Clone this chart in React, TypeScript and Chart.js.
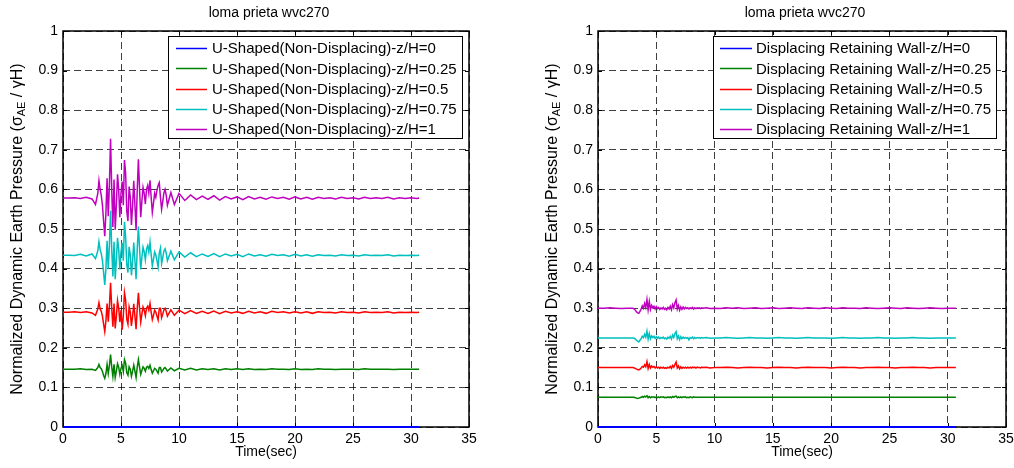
import React, { useEffect, useRef } from 'react';
import { Chart, registerables } from 'chart.js';

Chart.register(...registerables);

const FONT = '"Liberation Sans", Arial, Helvetica, sans-serif';
Chart.defaults.font.family = FONT;
Chart.defaults.font.size = 14;
Chart.defaults.color = '#000';

const TITLE = 'loma prieta wvc270';
const X_TITLE = 'Time(sec)';
const Y_TITLE_MAIN = 'Normalized Dynamic Earth Pressure (σ';
const Y_TITLE_SUB = 'AE';
const Y_TITLE_END = ' / γH)';

const X_TICKS = ['0', '5', '10', '15', '20', '25', '30', '35'];
const Y_TICKS = ['0', '0.1', '0.2', '0.3', '0.4', '0.5', '0.6', '0.7', '0.8', '0.9', '1'];

const LEFT_LABELS = [
  'U-Shaped(Non-Displacing)-z/H=0',
  'U-Shaped(Non-Displacing)-z/H=0.25',
  'U-Shaped(Non-Displacing)-z/H=0.5',
  'U-Shaped(Non-Displacing)-z/H=0.75',
  'U-Shaped(Non-Displacing)-z/H=1',
];
const RIGHT_LABELS = [
  'Displacing Retaining Wall-z/H=0',
  'Displacing Retaining Wall-z/H=0.25',
  'Displacing Retaining Wall-z/H=0.5',
  'Displacing Retaining Wall-z/H=0.75',
  'Displacing Retaining Wall-z/H=1',
];
const COLORS = ['#0000ff', '#008000', '#ff0000', '#00bfbf', '#bf00bf'];

// time (sec)
const TIME = [
  0, 0.5, 1, 1.5, 2, 2.5, 2.8,
  3.0, 3.1, 3.2, 3.3, 3.4, 3.5, 3.6, 3.7, 3.8, 3.9,
  4.0, 4.1, 4.2, 4.3, 4.4, 4.5, 4.6, 4.7, 4.8, 4.9,
  5.0, 5.1, 5.2, 5.3, 5.4, 5.5, 5.6, 5.7, 5.8, 5.9,
  6.0, 6.1, 6.2, 6.3, 6.4, 6.5, 6.6, 6.7, 6.8, 6.9,
  7.0, 7.1, 7.2, 7.3, 7.4, 7.5, 7.6, 7.7, 7.8, 7.9,
  8.0, 8.1, 8.2, 8.3, 8.4, 8.5, 8.6, 8.7, 8.8, 8.9,
  9.0, 9.3, 9.6, 10.0,
  10.5, 11, 11.5, 12, 12.5, 13, 13.5, 14, 14.5, 15,
  15.5, 16, 16.5, 17, 17.5, 18, 18.5, 19, 19.5, 20,
  20.5, 21, 21.5, 22, 22.5, 23, 23.5, 24, 24.5, 25,
  25.5, 26, 26.5, 27, 27.5, 28, 28.5, 29, 29.5, 30,
  30.5,
  30.7,
];

// z/H = 0 : flat zero line
const BASE_TIME = [0, 30.7];
const BASE_VALUES = [0, 0];

// ---- U-Shaped (Non-Displacing) ----
const LEFT_Z025 = [
  0.146, 0.146, 0.146, 0.147, 0.145, 0.146, 0.143,
  0.150, 0.158, 0.150, 0.147, 0.140, 0.130, 0.123, 0.135, 0.158, 0.135,
  0.155, 0.183, 0.152, 0.128, 0.158, 0.125, 0.141, 0.160, 0.151, 0.133,
  0.148, 0.155, 0.140, 0.170, 0.161, 0.137, 0.131, 0.152, 0.146, 0.128,
  0.141, 0.156, 0.141, 0.125, 0.151, 0.170, 0.151, 0.133, 0.143, 0.152,
  0.148, 0.141, 0.151, 0.153, 0.148, 0.156, 0.145, 0.136, 0.142, 0.148,
  0.146, 0.141, 0.136, 0.150, 0.150, 0.139, 0.143, 0.148, 0.150, 0.146,
  0.141, 0.149, 0.142, 0.148,
  0.144, 0.148, 0.144, 0.147, 0.145, 0.147, 0.144, 0.147, 0.145, 0.147,
  0.145, 0.147, 0.145, 0.146, 0.145, 0.147, 0.146, 0.146, 0.145, 0.147,
  0.145, 0.146, 0.145, 0.147, 0.146, 0.146, 0.145, 0.146, 0.146, 0.146,
  0.145, 0.147, 0.146, 0.146, 0.146, 0.146, 0.145, 0.146, 0.146, 0.146,
  0.146,
  0.146,
];
const LEFT_Z050 = [
  0.290, 0.290, 0.291, 0.289, 0.291, 0.288, 0.282,
  0.298, 0.314, 0.298, 0.292, 0.280, 0.260, 0.241, 0.268, 0.312, 0.266,
  0.305, 0.364, 0.300, 0.253, 0.312, 0.249, 0.280, 0.319, 0.300, 0.265,
  0.295, 0.246, 0.280, 0.339, 0.320, 0.272, 0.260, 0.303, 0.290, 0.255,
  0.280, 0.311, 0.280, 0.247, 0.300, 0.339, 0.300, 0.265, 0.285, 0.303,
  0.295, 0.281, 0.300, 0.305, 0.295, 0.312, 0.290, 0.271, 0.282, 0.295,
  0.290, 0.280, 0.270, 0.300, 0.300, 0.276, 0.285, 0.296, 0.300, 0.292,
  0.280, 0.296, 0.282, 0.295,
  0.286, 0.294, 0.287, 0.292, 0.287, 0.293, 0.286, 0.292, 0.288, 0.291,
  0.287, 0.292, 0.288, 0.291, 0.287, 0.292, 0.289, 0.291, 0.288, 0.291,
  0.288, 0.291, 0.287, 0.291, 0.289, 0.290, 0.288, 0.291, 0.289, 0.290,
  0.288, 0.291, 0.289, 0.290, 0.289, 0.291, 0.288, 0.290, 0.289, 0.290,
  0.289,
  0.290,
];
const LEFT_Z075 = [
  0.434, 0.434, 0.433, 0.436, 0.432, 0.437, 0.425,
  0.445, 0.468, 0.448, 0.438, 0.420, 0.390, 0.359, 0.400, 0.470, 0.400,
  0.458, 0.546, 0.450, 0.380, 0.468, 0.373, 0.420, 0.478, 0.450, 0.398,
  0.442, 0.465, 0.420, 0.518, 0.480, 0.409, 0.390, 0.455, 0.435, 0.383,
  0.420, 0.466, 0.420, 0.373, 0.450, 0.506, 0.450, 0.398, 0.428, 0.454,
  0.442, 0.422, 0.450, 0.458, 0.442, 0.467, 0.435, 0.407, 0.424, 0.442,
  0.435, 0.420, 0.404, 0.440, 0.452, 0.413, 0.428, 0.444, 0.450, 0.439,
  0.420, 0.444, 0.422, 0.442,
  0.429, 0.440, 0.430, 0.437, 0.431, 0.438, 0.430, 0.437, 0.432, 0.436,
  0.430, 0.437, 0.432, 0.435, 0.431, 0.436, 0.433, 0.435, 0.431, 0.436,
  0.432, 0.435, 0.431, 0.435, 0.433, 0.434, 0.432, 0.435, 0.433, 0.434,
  0.432, 0.435, 0.433, 0.434, 0.433, 0.435, 0.432, 0.434, 0.433, 0.434,
  0.433,
  0.434,
];
const LEFT_Z100 = [
  0.578, 0.578, 0.579, 0.577, 0.580, 0.576, 0.562,
  0.590, 0.622, 0.600, 0.585, 0.560, 0.520, 0.482, 0.540, 0.628, 0.532,
  0.610, 0.728, 0.600, 0.505, 0.625, 0.498, 0.560, 0.638, 0.600, 0.530,
  0.590, 0.620, 0.560, 0.674, 0.640, 0.545, 0.520, 0.607, 0.580, 0.510,
  0.560, 0.622, 0.560, 0.497, 0.600, 0.676, 0.600, 0.530, 0.570, 0.605,
  0.590, 0.563, 0.600, 0.610, 0.590, 0.623, 0.580, 0.542, 0.565, 0.590,
  0.580, 0.598, 0.610, 0.617, 0.580, 0.550, 0.570, 0.592, 0.600, 0.585,
  0.560, 0.592, 0.562, 0.590,
  0.572, 0.586, 0.574, 0.583, 0.575, 0.584, 0.573, 0.582, 0.576, 0.581,
  0.574, 0.582, 0.576, 0.580, 0.575, 0.581, 0.577, 0.580, 0.575, 0.581,
  0.576, 0.580, 0.575, 0.580, 0.577, 0.579, 0.576, 0.580, 0.577, 0.579,
  0.576, 0.580, 0.577, 0.579, 0.577, 0.580, 0.576, 0.579, 0.577, 0.579,
  0.577,
  0.578,
];

// ---- Displacing Retaining Wall ----
const RIGHT_Z025 = [
  0.075, 0.075, 0.075, 0.075, 0.075, 0.075, 0.075,
  0.075, 0.075, 0.074, 0.073, 0.072, 0.073, 0.074, 0.075, 0.077, 0.075,
  0.078, 0.076, 0.079, 0.074, 0.077, 0.074, 0.076, 0.075, 0.076, 0.074,
  0.076, 0.074, 0.076, 0.074, 0.076, 0.075, 0.076, 0.074, 0.075, 0.074,
  0.076, 0.074, 0.076, 0.074, 0.077, 0.075, 0.077, 0.078, 0.074, 0.076,
  0.074, 0.076, 0.074, 0.076, 0.075, 0.076, 0.074, 0.075, 0.074, 0.076,
  0.075, 0.074, 0.076, 0.075, 0.075, 0.075, 0.075, 0.075, 0.075, 0.075,
  0.075, 0.075, 0.075, 0.075,
  0.075, 0.075, 0.075, 0.075, 0.075, 0.075, 0.075, 0.075, 0.075, 0.075,
  0.075, 0.075, 0.075, 0.075, 0.075, 0.075, 0.075, 0.075, 0.075, 0.075,
  0.075, 0.075, 0.075, 0.075, 0.075, 0.075, 0.075, 0.075, 0.075, 0.075,
  0.075, 0.075, 0.075, 0.075, 0.075, 0.075, 0.075, 0.075, 0.075, 0.075,
  0.075,
  0.075,
];
const RIGHT_Z050 = [
  0.150, 0.150, 0.150, 0.150, 0.150, 0.150, 0.150,
  0.150, 0.149, 0.148, 0.146, 0.145, 0.144, 0.146, 0.149, 0.153, 0.151,
  0.157, 0.152, 0.165, 0.148, 0.158, 0.149, 0.154, 0.151, 0.153, 0.149,
  0.152, 0.149, 0.151, 0.148, 0.151, 0.149, 0.151, 0.148, 0.150, 0.148,
  0.151, 0.149, 0.153, 0.148, 0.155, 0.151, 0.158, 0.164, 0.149, 0.154,
  0.147, 0.152, 0.148, 0.151, 0.149, 0.151, 0.149, 0.151, 0.149, 0.151,
  0.149, 0.151, 0.150, 0.151, 0.149, 0.151, 0.150, 0.150, 0.149, 0.151,
  0.150, 0.151, 0.149, 0.150,
  0.150, 0.151, 0.150, 0.149, 0.150, 0.151, 0.150, 0.150, 0.149, 0.150,
  0.151, 0.150, 0.150, 0.149, 0.150, 0.151, 0.150, 0.150, 0.150, 0.149,
  0.150, 0.151, 0.150, 0.150, 0.149, 0.150, 0.150, 0.151, 0.150, 0.150,
  0.149, 0.150, 0.150, 0.151, 0.150, 0.150, 0.149, 0.150, 0.150, 0.150,
  0.150,
  0.150,
];
const RIGHT_Z075 = [
  0.225, 0.225, 0.225, 0.225, 0.225, 0.225, 0.225,
  0.225, 0.224, 0.222, 0.219, 0.217, 0.215, 0.219, 0.223, 0.229, 0.226,
  0.234, 0.227, 0.242, 0.222, 0.236, 0.223, 0.230, 0.226, 0.229, 0.224,
  0.228, 0.224, 0.227, 0.223, 0.226, 0.224, 0.227, 0.223, 0.225, 0.222,
  0.227, 0.224, 0.229, 0.222, 0.232, 0.226, 0.236, 0.241, 0.223, 0.230,
  0.221, 0.228, 0.223, 0.227, 0.224, 0.226, 0.224, 0.226, 0.220, 0.226,
  0.224, 0.227, 0.223, 0.226, 0.224, 0.226, 0.225, 0.226, 0.224, 0.226,
  0.225, 0.226, 0.224, 0.225,
  0.225, 0.226, 0.225, 0.224, 0.225, 0.226, 0.225, 0.225, 0.224, 0.225,
  0.226, 0.225, 0.225, 0.224, 0.225, 0.226, 0.225, 0.225, 0.225, 0.224,
  0.225, 0.226, 0.225, 0.225, 0.224, 0.225, 0.225, 0.226, 0.225, 0.225,
  0.224, 0.225, 0.225, 0.226, 0.225, 0.225, 0.224, 0.225, 0.225, 0.225,
  0.225,
  0.225,
];
const RIGHT_Z100 = [
  0.300, 0.300, 0.301, 0.300, 0.299, 0.300, 0.300,
  0.300, 0.298, 0.295, 0.291, 0.288, 0.287, 0.292, 0.298, 0.306, 0.300,
  0.312, 0.302, 0.322, 0.296, 0.317, 0.297, 0.307, 0.301, 0.305, 0.298,
  0.304, 0.299, 0.302, 0.297, 0.301, 0.298, 0.302, 0.297, 0.300, 0.296,
  0.302, 0.298, 0.305, 0.296, 0.309, 0.301, 0.314, 0.321, 0.298, 0.307,
  0.295, 0.303, 0.297, 0.303, 0.298, 0.302, 0.299, 0.301, 0.298, 0.301,
  0.299, 0.302, 0.298, 0.301, 0.299, 0.301, 0.300, 0.301, 0.299, 0.301,
  0.300, 0.301, 0.299, 0.300,
  0.299, 0.301, 0.300, 0.301, 0.299, 0.300, 0.301, 0.299, 0.300, 0.301,
  0.299, 0.300, 0.301, 0.300, 0.299, 0.301, 0.300, 0.299, 0.301, 0.300,
  0.299, 0.301, 0.300, 0.300, 0.299, 0.301, 0.300, 0.299, 0.300, 0.301,
  0.300, 0.299, 0.301, 0.300, 0.299, 0.300, 0.301, 0.300, 0.299, 0.300,
  0.300,
  0.300,
];

const toPoints = (t: number[], v: number[]) => v.map((y, i) => ({ x: t[i], y }));

const decorPlugin = {
  id: 'decor',
  beforeDatasetsDraw(chart: any) {
    const { ctx, chartArea: a, scales } = chart;
    ctx.save();
    ctx.strokeStyle = '#000';
    ctx.lineWidth = 1;
    ctx.beginPath();
    scales.x.ticks.forEach((t: any) => {
      const px = Math.round(scales.x.getPixelForValue(t.value)) + 0.5;
      ctx.moveTo(px, a.bottom);
      ctx.lineTo(px, a.bottom - 4);
      ctx.moveTo(px, a.top);
      ctx.lineTo(px, a.top + 4);
    });
    scales.y.ticks.forEach((t: any) => {
      const py = Math.round(scales.y.getPixelForValue(t.value)) + 0.5;
      ctx.moveTo(a.left, py);
      ctx.lineTo(a.left + 4, py);
      ctx.moveTo(a.right, py);
      ctx.lineTo(a.right - 4, py);
    });
    ctx.stroke();
    ctx.lineWidth = 1.5;
    ctx.strokeRect(a.left, a.top, a.right - a.left, a.bottom - a.top);
    ctx.restore();
  },
  afterDraw(chart: any, _args: any, opts: any) {
    const { ctx, chartArea: a } = chart;
    ctx.save();
    // title
    ctx.fillStyle = '#000';
    ctx.font = `14px ${FONT}`;
    ctx.textAlign = 'center';
    ctx.textBaseline = 'middle';
    ctx.fillText(TITLE, (a.left + a.right) / 2 + opts.titleShift, 13);

    // y axis title with subscript
    const yc = (a.top + a.bottom) / 2;
    ctx.save();
    ctx.translate(a.left - opts.yTitleGap, yc);
    ctx.rotate(-Math.PI / 2);
    ctx.textAlign = 'left';
    ctx.font = `16px ${FONT}`;
    const w1 = ctx.measureText(Y_TITLE_MAIN).width;
    const w3 = ctx.measureText(Y_TITLE_END).width;
    ctx.font = `11px ${FONT}`;
    const w2 = ctx.measureText(Y_TITLE_SUB).width;
    let x0 = -(w1 + w2 + w3) / 2;
    ctx.font = `16px ${FONT}`;
    ctx.fillText(Y_TITLE_MAIN, x0, 0);
    x0 += w1;
    ctx.font = `11px ${FONT}`;
    ctx.fillText(Y_TITLE_SUB, x0, 4);
    x0 += w2;
    ctx.font = `16px ${FONT}`;
    ctx.fillText(Y_TITLE_END, x0, 0);
    ctx.restore();

    // legend
    const lg = opts.legend;
    const ds = chart.data.datasets;
    ctx.font = `15px ${FONT}`;
    let maxW = 0;
    ds.forEach((d: any) => {
      maxW = Math.max(maxW, ctx.measureText(d.label).width);
    });
    const w = Math.round(lg.textX + maxW + lg.padR);
    ctx.fillStyle = '#fff';
    ctx.fillRect(lg.x, lg.top, w, lg.height);
    ctx.strokeStyle = '#000';
    ctx.lineWidth = 1;
    ctx.strokeRect(lg.x + 0.5, lg.top + 0.5, w, lg.height);
    ctx.textAlign = 'left';
    ctx.textBaseline = 'middle';
    ds.forEach((d: any, i: number) => {
      const y = lg.top + lg.first + i * lg.rowH;
      ctx.strokeStyle = d.borderColor;
      ctx.lineWidth = 1.5;
      ctx.beginPath();
      ctx.moveTo(lg.x + lg.lineX0, Math.round(y) + 0.5);
      ctx.lineTo(lg.x + lg.lineX1, Math.round(y) + 0.5);
      ctx.stroke();
      ctx.fillStyle = '#000';
      ctx.fillText(d.label, lg.x + lg.textX, y + 1);
    });
    ctx.restore();
  },
};

type PanelProps = {
  left: number;
  width: number;
  rightPad: number;
  labels: string[];
  series: number[][];
  legend: any;
  titleShift: number;
};

function Panel({ left, width, rightPad, labels, series, legend, titleShift }: PanelProps) {
  const ref = useRef<HTMLCanvasElement | null>(null);
  useEffect(() => {
    if (!ref.current) return;
    const datasets = labels.map((label, i) => ({
      label,
      data: i === 0 ? toPoints(BASE_TIME, BASE_VALUES) : toPoints(TIME, series[i - 1]),
      borderColor: COLORS[i],
      backgroundColor: COLORS[i],
      borderWidth: i === 0 ? 2 : 1.5,
      pointRadius: 0,
      tension: 0,
      fill: false,
      clip: false as any,
    }));
    const gridColor = 'rgba(0,0,0,0.75)';
    const chart = new Chart(ref.current, {
      type: 'line',
      data: { datasets },
      plugins: [decorPlugin],
      options: {
        responsive: false,
        animation: false,
        layout: { padding: { top: 31, right: rightPad, left: 0, bottom: 0 } },
        plugins: {
          legend: { display: false },
          title: { display: false },
          tooltip: { enabled: false },
          decor: { legend, titleShift, yTitleGap: 45 },
        } as any,
        scales: {
          x: {
            type: 'linear',
            min: 0,
            max: 35,
            afterFit: (s: any) => {
              s.height = 41;
              s.paddingLeft = 0;
              s.paddingRight = 0;
            },
            grid: { color: gridColor, drawTicks: false, lineWidth: 1 },
            border: { display: false, dash: [7, 4] },
            ticks: {
              stepSize: 5,
              padding: 4,
              autoSkip: false,
              maxRotation: 0,
              color: '#000',
              font: { size: 14 },
              callback: (_v: any, i: number) => X_TICKS[i],
            },
            title: {
              display: true,
              text: X_TITLE,
              color: '#000',
              font: { size: 14 },
              padding: { top: 0, bottom: 7.6 },
            },
          },
          y: {
            type: 'linear',
            min: 0,
            max: 1,
            afterFit: (s: any) => {
              s.width = 63;
              s.paddingTop = 0;
              s.paddingBottom = 0;
            },
            grid: { color: gridColor, drawTicks: false, lineWidth: 1 },
            border: { display: false, dash: [7, 4] },
            ticks: {
              stepSize: 0.1,
              padding: 5,
              autoSkip: false,
              color: '#000',
              font: { size: 14 },
              callback: (_v: any, i: number) => Y_TICKS[i],
            },
          },
        },
      } as any,
    });
    return () => chart.destroy();
  }, []);
  return (
    <canvas
      ref={ref}
      width={width}
      height={468}
      style={{ position: 'absolute', left, top: 0, width, height: 468, display: 'block' }}
    />
  );
}

export default function App() {
  return (
    <div
      style={{
        position: 'fixed',
        left: 0,
        top: 0,
        width: 1014,
        height: 468,
        background: '#fff',
        overflow: 'hidden',
      }}
    >
      <Panel
        left={0}
        width={500}
        rightPad={31}
        labels={LEFT_LABELS}
        series={[LEFT_Z025, LEFT_Z050, LEFT_Z075, LEFT_Z100]}
        legend={{ x: 168, top: 36, height: 102, first: 12.3, rowH: 20.1, lineX0: 8, lineX1: 39, textX: 44, padR: 5 }}
        titleShift={3}
      />
      <Panel
        left={535}
        width={479}
        rightPad={8}
        labels={RIGHT_LABELS}
        series={[RIGHT_Z025, RIGHT_Z050, RIGHT_Z075, RIGHT_Z100]}
        legend={{ x: 178, top: 36, height: 102, first: 12.3, rowH: 20.1, lineX0: 7, lineX1: 39, textX: 43, padR: 5 }}
        titleShift={3}
      />
    </div>
  );
}
